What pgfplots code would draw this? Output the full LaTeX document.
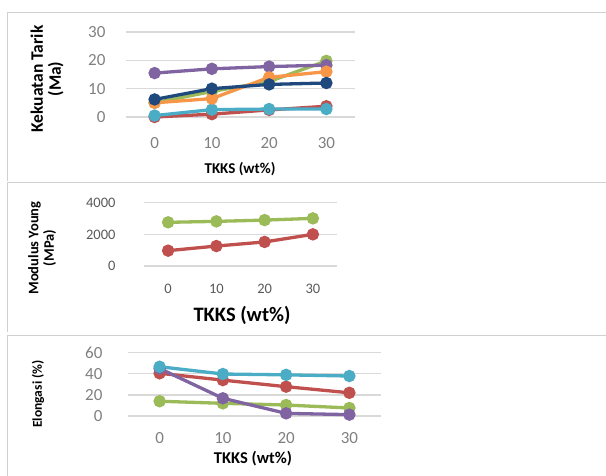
\documentclass[border=0pt]{standalone}
\usepackage{fontspec}
\setmainfont{Carlito}
\usepackage{pgfplots}
\pgfplotsset{compat=1.18}
\definecolor{cred}{HTML}{C0504D}
\definecolor{cgreen}{HTML}{9BBB59}
\definecolor{cpurple}{HTML}{8064A2}
\definecolor{ccyan}{HTML}{4BACC6}
\definecolor{corange}{HTML}{F79646}
\definecolor{cnavy}{HTML}{1F497D}
\definecolor{gridc}{HTML}{D9D9D9}
\definecolor{framec}{HTML}{D0D0D0}
\pgfplotsset{
  panel/.style={
    scale only axis,
    xmin=-5, xmax=35,
    xtick={0,10,20,30},
    axis line style={draw=none},
    major tick length=0pt,
    ymajorgrids,
    grid style={gridc, line width=1.2pt},
    /pgf/number format/assume math mode=true,
    /pgf/number format/1000 sep={},
    clip=false,
  },
  ser/.style={color=#1, line width=3.3pt, mark=*, mark size=4.5pt, mark options={solid, fill=#1}},
}
\begin{document}
\begin{tikzpicture}
\useasboundingbox (0pt,0pt) rectangle (606pt,475pt);
% frames
\draw[framec, line width=1pt] (7.5pt,-5pt) -- (7.5pt,140pt) -- (620pt,140pt);
\draw[framec, line width=1pt] (7.5pt,143pt) -- (7.5pt,292pt) -- (620pt,292pt);
\draw[framec, line width=1pt] (7.5pt,294pt) -- (7.5pt,462pt) -- (620pt,462pt);
% Panel 1
\begin{axis}[panel,
  at={(126pt,358pt)}, anchor=south west,
  width=229pt, height=85pt,
  ymin=0, ymax=30, ytick={0,10,20,30},
  tick label style={font=\fontsize{17}{17}\selectfont, text=black!50},
  yticklabel style={xshift=-17pt},
  xticklabel style={yshift=-17pt},
  xlabel={TKKS (wt\%)},
  xlabel style={at={(axis description cs:0.498,-0.612)}, anchor=center, font=\bfseries\fontsize{15}{15}\selectfont},
  ylabel={Kekuatan Tarik\\(Ma)},
  ylabel style={at={(axis description cs:-0.345,0.447)}, anchor=center, align=center, font=\bfseries\fontsize{17.5}{18}\selectfont},
]
\addplot[ser=cred] coordinates {(0,0) (10,1) (20,2.5) (30,3.8)};
\addplot[ser=cgreen] coordinates {(0,5) (10,9) (20,12.5) (30,19.8)};
\addplot[ser=cpurple] coordinates {(0,15.5) (10,17) (20,17.8) (30,18.3)};
\addplot[ser=ccyan] coordinates {(0,0.5) (10,2.6) (20,2.8) (30,2.8)};
\addplot[ser=corange] coordinates {(0,5) (10,6.5) (20,14) (30,16)};
\addplot[ser=cnavy] coordinates {(0,6.2) (10,10) (20,11.5) (30,12)};
\end{axis}
% Panel 2
\begin{axis}[panel,
  at={(144pt,209pt)}, anchor=south west,
  width=193pt, height=63.3pt,
  ymin=0, ymax=4000, ytick={0,2000,4000},
  tick label style={font=\fontsize{14.5}{14.5}\selectfont, text=black!65},
  yticklabel style={xshift=-25pt},
  xticklabel style={yshift=-15pt},
  xlabel={TKKS (wt\%)},
  xlabel style={at={(axis description cs:0.508,-0.774)}, anchor=center, font=\bfseries\fontsize{20.5}{20.5}\selectfont},
  ylabel={Modulus Young\\(MPa)},
  ylabel style={at={(axis description cs:-0.528,0.284)}, anchor=center, align=center, font=\bfseries\fontsize{14.5}{15.5}\selectfont},
]
\addplot[ser=cred] coordinates {(0,970) (10,1260) (20,1520) (30,2000)};
\addplot[ser=cgreen] coordinates {(0,2760) (10,2820) (20,2900) (30,3010)};
\end{axis}
% Panel 3
\begin{axis}[panel,
  at={(128pt,59pt)}, anchor=south west,
  width=253pt, height=63.3pt,
  ymin=0, ymax=60, ytick={0,20,40,60},
  tick label style={font=\fontsize{17}{17}\selectfont, text=black!50},
  yticklabel style={xshift=-22pt},
  xticklabel style={yshift=-13pt},
  xlabel={TKKS (wt\%)},
  xlabel style={at={(axis description cs:0.494,-0.679)}, anchor=center, font=\bfseries\fontsize{16.5}{16.5}\selectfont},
  ylabel={Elongasi (\%)},
  ylabel style={at={(axis description cs:-0.356,0.348)}, anchor=center, font=\bfseries\fontsize{13.5}{13.5}\selectfont},
]
\addplot[ser=cred] coordinates {(0,40.5) (10,34) (20,27.8) (30,22)};
\addplot[ser=cgreen] coordinates {(0,14) (10,12) (20,10.4) (30,7.6)};
\addplot[ser=cpurple] coordinates {(0,45) (10,16.8) (20,2.5) (30,1.3)};
\addplot[ser=ccyan] coordinates {(0,46.7) (10,39.8) (20,39) (30,37.9)};
\end{axis}
\end{tikzpicture}
\end{document}
